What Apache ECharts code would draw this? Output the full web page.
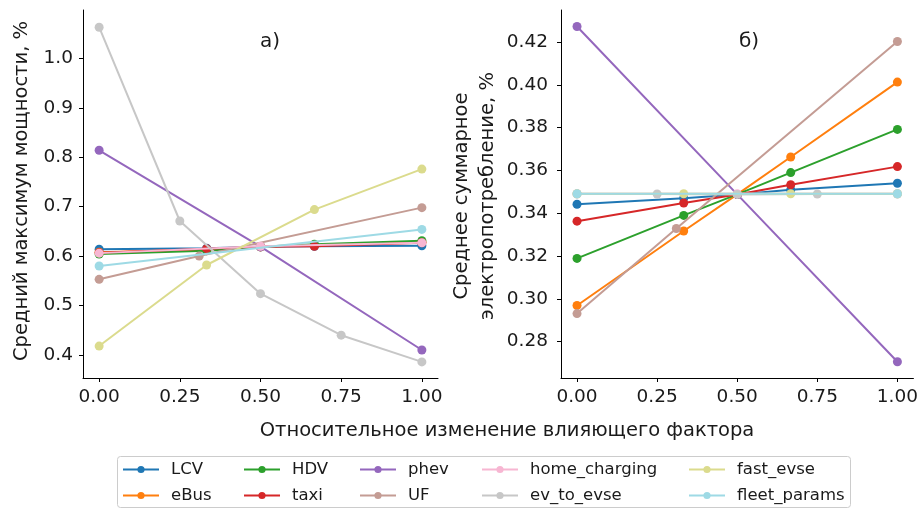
<!DOCTYPE html>
<html>
<head>
<meta charset="utf-8">
<script src="https://cdn.jsdelivr.net/npm/echarts@6/dist/echarts.min.js"></script>
<style>html,body{margin:0;padding:0;background:#fff}#c{width:921px;height:510px}</style>
</head>
<body>
<div id="c"></div>
<script>
// ---- data ----
const seriesNames = ['LCV','eBus','HDV','taxi','phev','UF','home_charging','ev_to_evse','fast_evse','fleet_params'];
const xTickValues = [0, 0.25, 0.5, 0.75, 1.0];
const leftTickValues = [0.4, 0.5, 0.6, 0.7, 0.8, 0.9, 1.0];
const rightTickValues = [0.28, 0.30, 0.32, 0.34, 0.36, 0.38, 0.40, 0.42];
const xTitle = 'Относительное изменение влияющего фактора';
const leftYTitle = 'Средний максимум мощности, %';
const rightYTitle = 'Среднее суммарное\nэлектропотребление, %';
const panelLabels = ['а)', 'б)'];

// x positions (relative change of factor)
const x_LCV = [0, 0.333, 0.5, 0.667, 1];
const x_eBus = [0, 0.333, 0.5, 0.667, 1];
const x_HDV = [0, 0.333, 0.5, 0.667, 1];
const x_taxi = [0, 0.333, 0.5, 0.667, 1];
const x_phev = [0, 0.5, 1];
const x_UF = [0, 0.31, 1];
const x_home_charging = [0, 0.5, 1];
const x_ev_to_evse = [0, 0.25, 0.5, 0.75, 1];
const x_fast_evse = [0, 0.333, 0.667, 1];
const x_fleet_params = [0, 1];

// panel a) mean maximum power
const a_LCV = [0.614, 0.616, 0.619, 0.620, 0.621];
const a_eBus = [0.608, 0.613, 0.619, 0.622, 0.628];
const a_HDV = [0.604, 0.611, 0.619, 0.624, 0.631];
const a_taxi = [0.607, 0.615, 0.619, 0.620, 0.627];
const a_phev = [0.814, 0.619, 0.410];
const a_UF = [0.553, 0.600, 0.698];
const a_home_charging = [0.606, 0.620, 0.627];
const a_ev_to_evse = [1.063, 0.671, 0.524, 0.440, 0.386];
const a_fast_evse = [0.418, 0.582, 0.694, 0.776];
const a_fleet_params = [0.580, 0.654];

// panel б) mean total consumption
const b_LCV = [0.3442, 0.3470, 0.3488, 0.3510, 0.3540];
const b_eBus = [0.2969, 0.3317, 0.3488, 0.3663, 0.4013];
const b_HDV = [0.3189, 0.3390, 0.3488, 0.3590, 0.3792];
const b_taxi = [0.3363, 0.3448, 0.3488, 0.3533, 0.3618];
const b_phev = [0.4273, 0.3488, 0.2706];
const b_UF = [0.2931, 0.3329, 0.4203];
const b_home_charging = [0.3491, 0.3491, 0.3491];
const b_ev_to_evse = [0.3490, 0.3490, 0.3488, 0.3490, 0.3490];
const b_fast_evse = [0.3491, 0.3491, 0.3491, 0.3491];
const b_fleet_params = [0.3491, 0.3491];

const xs = [x_LCV, x_eBus, x_HDV, x_taxi, x_phev, x_UF, x_home_charging, x_ev_to_evse, x_fast_evse, x_fleet_params];
const aVals = [a_LCV, a_eBus, a_HDV, a_taxi, a_phev, a_UF, a_home_charging, a_ev_to_evse, a_fast_evse, a_fleet_params];
const bVals = [b_LCV, b_eBus, b_HDV, b_taxi, b_phev, b_UF, b_home_charging, b_ev_to_evse, b_fast_evse, b_fleet_params];

// ---- styles ----
const colors = ['#1f77b4','#ff7f0e','#2ca02c','#d62728','#9467bd','#c49c94','#f7b6d2','#c7c7c7','#dbdb8d','#9edae5'];
const FONT = 'DejaVu Sans';
const TXT = '#1a1a1a';

function pairs(x, y) { return x.map((v, i) => [v, y[i]]); }

const series = [];
seriesNames.forEach((n, i) => {
  [0, 1].forEach(p => {
    series.push({
      name: n, type: 'line',
      xAxisIndex: p, yAxisIndex: p,
      data: pairs(xs[i], p === 0 ? aVals[i] : bVals[i]),
      symbol: 'circle', symbolSize: 9,
      color: colors[i],
      lineStyle: { width: 2, color: colors[i] },
      itemStyle: { color: colors[i] },
      emphasis: { disabled: true },
      animation: false,
      z: 2 + i
    });
  });
});

function xAxis(gi) {
  return {
    type: 'value', gridIndex: gi, min: -0.05, max: 1.05,
    axisLine: { show: true, onZero: false, lineStyle: { color: '#000', width: 1 } },
    axisTick: { show: true, length: 4, lineStyle: { color: '#000' }, customValues: xTickValues },
    axisLabel: { color: TXT, fontFamily: FONT, fontSize: 18.5, margin: 10, customValues: xTickValues,
      formatter: v => v.toFixed(2) },
    splitLine: { show: false }
  };
}
function yAxis(gi, min, max, ticks, dec, margin) {
  return {
    type: 'value', gridIndex: gi, min: min, max: max,
    axisLine: { show: true, onZero: false, lineStyle: { color: '#000', width: 1 } },
    axisTick: { show: true, length: 4, lineStyle: { color: '#000' }, customValues: ticks },
    axisLabel: { color: TXT, fontFamily: FONT, fontSize: 18.5, margin: margin, customValues: ticks,
      formatter: v => v.toFixed(dec) },
    splitLine: { show: false }
  };
}

const legendCols = [
  { left: 122, data: ['LCV', 'eBus'] },
  { left: 243, data: ['HDV', 'taxi'] },
  { left: 359, data: ['phev', 'UF'] },
  { left: 481, data: ['home_charging', 'ev_to_evse'] },
  { left: 688, data: ['fast_evse', 'fleet_params'] }
];
const legends = legendCols.map(c => ({
  orient: 'vertical', left: c.left, top: 461, data: c.data,
  itemWidth: 36, itemHeight: 9, itemGap: 9, padding: 0,
  selectedMode: false,
  textStyle: { color: TXT, fontFamily: FONT, fontSize: 16.5, padding: [0, 0, 0, 7] }
}));

const chart = echarts.init(document.getElementById('c'), null, { renderer: 'canvas' });
chart.setOption({
  animation: false,
  backgroundColor: '#fff',
  grid: [
    { left: 83, top: 10, width: 355, height: 368 },
    { left: 561, top: 10, width: 354, height: 368 }
  ],
  xAxis: [xAxis(0), xAxis(1)],
  yAxis: [
    yAxis(0, 0.3534, 1.0978, leftTickValues, 1, 10),
    yAxis(1, 0.2630, 0.4350, rightTickValues, 2, 13)
  ],
  legend: legends,
  series: series,
  graphic: [
    { type: 'rect', left: 117, top: 456, shape: { width: 733, height: 51, r: 3 },
      style: { fill: '#fff', stroke: '#cccccc', lineWidth: 1 }, z: -1 },
    { type: 'text', x: 270, y: 42, style: { text: panelLabels[0], font: '20px "DejaVu Sans"', fill: TXT, align: 'center', verticalAlign: 'middle' } },
    { type: 'text', x: 749, y: 42, style: { text: panelLabels[1], font: '20px "DejaVu Sans"', fill: TXT, align: 'center', verticalAlign: 'middle' } },
    { type: 'text', x: 507, y: 431, style: { text: xTitle, font: '19.5px "DejaVu Sans"', fill: TXT, align: 'center', verticalAlign: 'middle' } },
    { type: 'text', x: 22, y: 191, rotation: Math.PI / 2, style: { text: leftYTitle, font: '19.5px "DejaVu Sans"', fill: TXT, align: 'center', verticalAlign: 'middle' } },
    { type: 'text', x: 475, y: 196, rotation: Math.PI / 2, style: { text: rightYTitle, font: '19.5px "DejaVu Sans"', lineHeight: 26, fill: TXT, align: 'center', verticalAlign: 'middle' } }
  ]
});
</script>
</body>
</html>
